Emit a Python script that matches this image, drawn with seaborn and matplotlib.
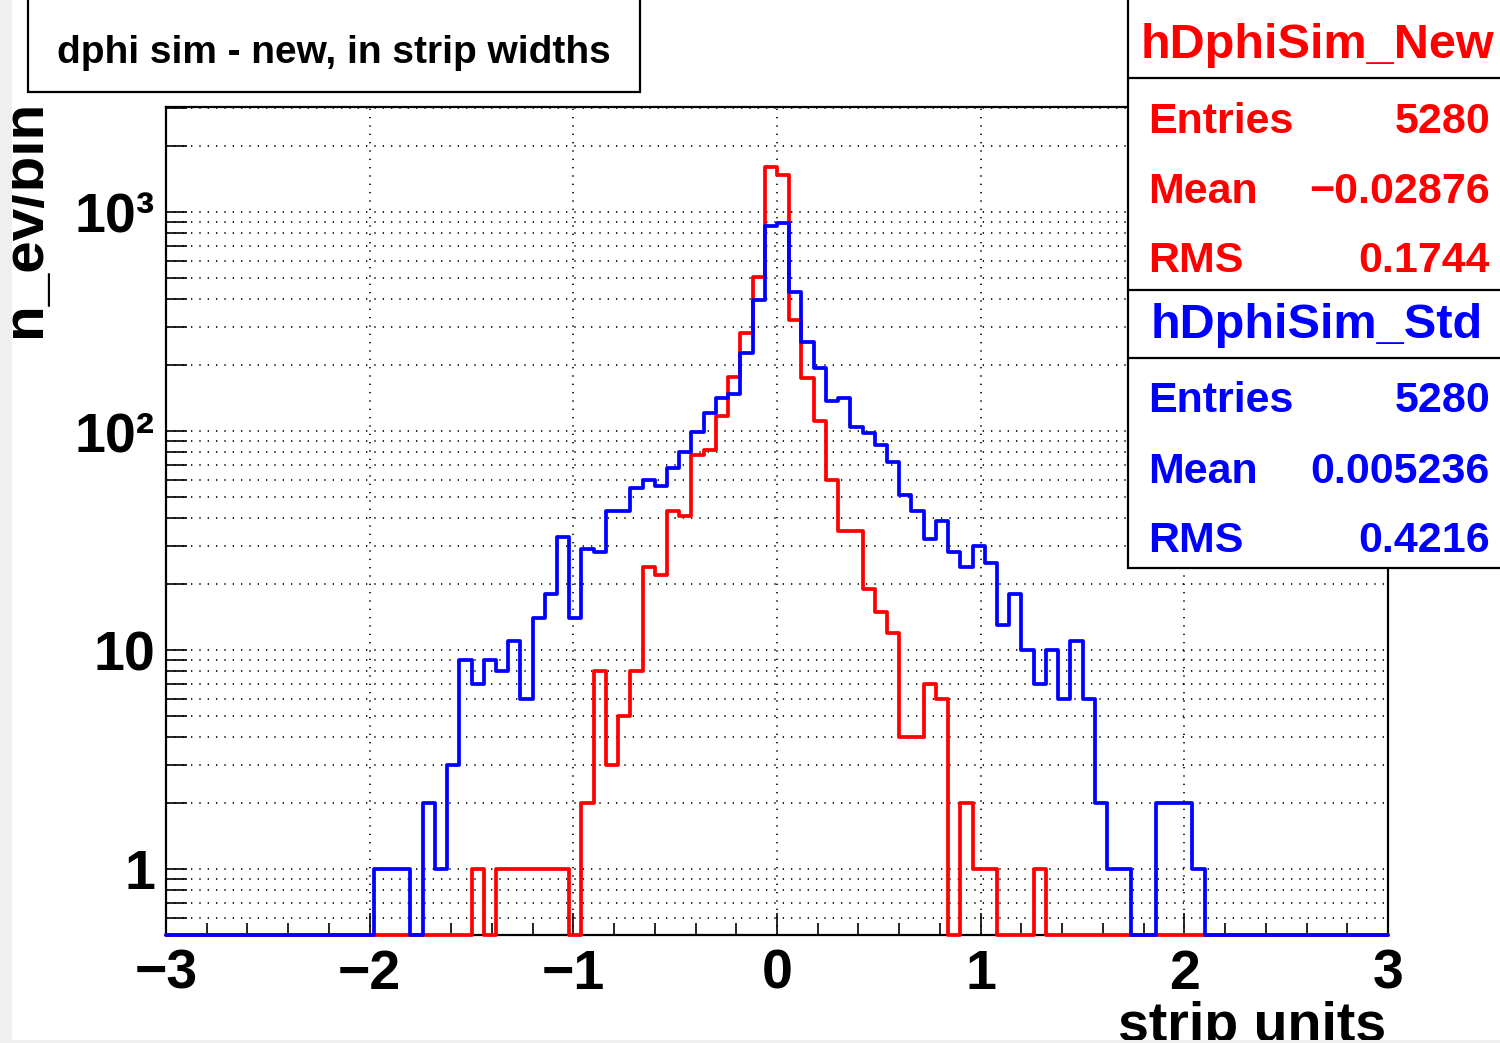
import numpy as np
import matplotlib
matplotlib.use("Agg")
import matplotlib.pyplot as plt
from matplotlib.patches import Rectangle
from matplotlib.lines import Line2D
from matplotlib.ticker import FixedLocator, FixedFormatter, LogLocator, NullFormatter, MultipleLocator
import seaborn as sns

# ---- histogram binning (strip units) ----
N_BINS = 100
X_RANGE = (-3.0, 3.0)
Y_RANGE = (0.5, 3020.0)

# ---- per-bin counts ----
counts_new = [
    0, 0, 0, 0, 0, 0, 0, 0, 0, 0,
    0, 0, 0, 0, 0, 0, 0, 0, 0, 0,
    0, 0, 0, 0, 0, 1, 0, 1, 1, 1,
    1, 1, 1, 0, 2, 8, 3, 5, 8, 24,
    22, 43, 41, 78, 82, 117, 177, 280, 505, 1603,
    1473, 321, 175, 111, 60, 35, 35, 19, 15, 12,
    4, 4, 7, 6, 0, 2, 1, 1, 0, 0,
    0, 1, 0, 0, 0, 0, 0, 0, 0, 0,
    0, 0, 0, 0, 0, 0, 0, 0, 0, 0,
    0, 0, 0, 0, 0, 0, 0, 0, 0, 0,
]
counts_std = [
    0, 0, 0, 0, 0, 0, 0, 0, 0, 0,
    0, 0, 0, 0, 0, 0, 0, 1, 1, 1,
    0, 2, 1, 3, 9, 7, 9, 8, 11, 6,
    14, 18, 33, 14, 29, 28, 43, 43, 55, 60,
    56, 68, 80, 99, 121, 142, 148, 227, 397, 863,
    890, 431, 255, 194, 137, 142, 104, 98, 86, 72,
    51, 43, 32, 39, 28, 24, 30, 25, 13, 18,
    10, 7, 10, 6, 11, 6, 2, 1, 1, 0,
    0, 2, 2, 2, 1, 0, 0, 0, 0, 0,
    0, 0, 0, 0, 0, 0, 0, 0, 0, 0,
]

# ---- axis ticks and labels ----
x_ticks = [-3, -2, -1, 0, 1, 2, 3]
y_ticks = [1, 10, 100, 1000]
y_tick_labels = ["1", "10", "10\u00b2", "10\u00b3"]

title_text = "dphi sim - new, in strip widths"
x_label = "strip units"
y_label = "n_ev/bin"

# ---- statistics boxes ----
stat_names = ["hDphiSim_New", "hDphiSim_Std"]
stat_keys = ["Entries", "Mean", "RMS"]
stat_values_new = ["5280", "\u22120.02876", "0.1744"]
stat_values_std = ["5280", "0.005236", "0.4216"]

RED = "#ff0000"
BLUE = "#0000ff"

sns.set_style("white")
plt.rcParams["font.family"] = ["Liberation Sans", "DejaVu Sans"]
plt.rcParams["font.weight"] = "bold"
plt.rcParams["text.color"] = "black"
plt.rcParams["xtick.color"] = "black"
plt.rcParams["ytick.color"] = "black"
plt.rcParams["axes.labelcolor"] = "black"

W, H = 1500, 1043
fig = plt.figure(figsize=(W / 100, H / 100), dpi=100)
fig.patch.set_facecolor("white")


def fx(px):
    return px / W


def fy(py):
    return 1 - py / H


ax = fig.add_axes([fx(166), fy(935), fx(1388) - fx(166), fy(107) - fy(935)])

edges = np.linspace(X_RANGE[0], X_RANGE[1], N_BINS + 1)
centers = 0.5 * (edges[:-1] + edges[1:])

# empty bins are drawn along the floor of the log axis
for counts, color, z in [(counts_new, RED, 3), (counts_std, BLUE, 4)]:
    heights = np.maximum(np.asarray(counts, dtype=float), Y_RANGE[0])
    sns.histplot(x=centers, weights=heights, bins=N_BINS, binrange=X_RANGE,
                 element="step", fill=False, color=color, linewidth=2.7,
                 ax=ax, clip_on=False, zorder=z)

ax.set_yscale("log")
ax.set_xlim(*X_RANGE)
ax.set_ylim(*Y_RANGE)
ax.set_xlabel("")
ax.set_ylabel("")

ax.xaxis.set_major_locator(FixedLocator(x_ticks))
ax.xaxis.set_minor_locator(MultipleLocator(0.2))
ax.yaxis.set_major_locator(FixedLocator(y_ticks))
ax.yaxis.set_major_formatter(FixedFormatter(y_tick_labels))
ax.yaxis.set_minor_locator(LogLocator(base=10, subs=np.arange(2, 10), numticks=20))
ax.yaxis.set_minor_formatter(NullFormatter())

ax.tick_params(axis="x", which="major", direction="in", length=16, width=1.2,
               labelsize=40, pad=10, bottom=True, top=False,
               colors="black", labelcolor="black")
ax.tick_params(axis="x", which="minor", direction="in", length=9, width=1.2,
               bottom=True, top=False, colors="black")
ax.tick_params(axis="y", which="both", direction="in", length=15, width=1.2,
               labelsize=40, pad=8, left=True, right=False,
               colors="black", labelcolor="black")
for lab in ax.get_xticklabels() + ax.get_yticklabels():
    lab.set_fontweight("bold")

dots = (0, (0.8, 4.2))
ax.grid(True, which="major", axis="x", color="black", linestyle=dots, linewidth=1.2)
ax.grid(True, which="both", axis="y", color="black", linestyle=dots, linewidth=1.2)

for sp in ax.spines.values():
    sp.set_color("black")
    sp.set_linewidth(1.6)

# title pave
fig.add_artist(Rectangle((fx(28), fy(92)), fx(640) - fx(28), fy(-10) - fy(92),
                         transform=fig.transFigure, facecolor="white",
                         edgecolor="black", linewidth=1.6, zorder=5))
fig.text(fx(334), fy(63), title_text, ha="center", va="baseline",
         fontsize=28, fontweight="bold", color="black", zorder=6)

# statistics pave
fig.add_artist(Rectangle((fx(1128), fy(568)), fx(1515) - fx(1128), fy(-10) - fy(568),
                         transform=fig.transFigure, facecolor="white",
                         edgecolor="black", linewidth=1.6, zorder=5))
for yline in [78, 290, 358]:
    fig.add_artist(Line2D([fx(1128), fx(1515)], [fy(yline), fy(yline)],
                          transform=fig.transFigure, color="black",
                          linewidth=1.6, zorder=6))

blocks = [
    (stat_names[0], stat_values_new, RED, 58, [133, 203, 272]),
    (stat_names[1], stat_values_std, BLUE, 338, [412, 483, 552]),
]
for name, values, color, name_base, rows in blocks:
    fig.text(fx(1317), fy(name_base), name, ha="center", va="baseline",
             fontsize=35, fontweight="bold", color=color, zorder=7)
    for key, val, yb in zip(stat_keys, values, rows):
        fig.text(fx(1148), fy(yb), key, ha="left", va="baseline",
                 fontsize=31, fontweight="bold", color=color, zorder=7)
        fig.text(fx(1490), fy(yb), val, ha="right", va="baseline",
                 fontsize=31, fontweight="bold", color=color, zorder=7)

# axis titles
fig.text(fx(1386), fy(1041), x_label, ha="right", va="baseline",
         fontsize=40, fontweight="bold", color="black", zorder=6)
fig.text(fx(25), fy(100), y_label, ha="center", va="top", rotation=90,
         fontsize=42, fontweight="bold", color="black", zorder=6)

# light window margins
fig.add_artist(Rectangle((0, 0), fx(12), 1, transform=fig.transFigure,
                         facecolor="#efefef", edgecolor="none", zorder=10))
fig.add_artist(Rectangle((0, 0), 1, fy(1040), transform=fig.transFigure,
                         facecolor="#efefef", edgecolor="none", zorder=10))

fig.savefig("out.png", dpi=100, facecolor="white")
